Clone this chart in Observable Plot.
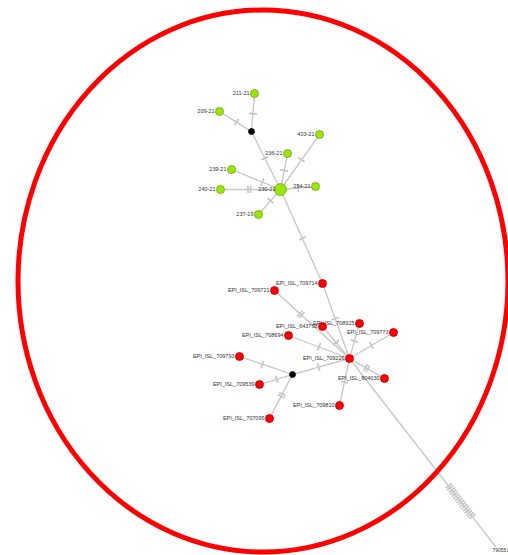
<!DOCTYPE html>
<html><head><meta charset="utf-8">
<script src="https://cdn.jsdelivr.net/npm/d3@7"></script>
<script src="https://cdn.jsdelivr.net/npm/@observablehq/plot@0.6"></script>
<style>html,body{margin:0;padding:0;background:#fff;overflow:hidden}</style>
</head><body><div id="chart"></div>
<script>
// Nodes of the haplotype network (layout coordinates)
const nodeIds = ["211-21","209-21","J1","403-21","236-21","239-21","240-21","230-21","294-21","237-19",
  "EPI_ISL_709714","EPI_ISL_709721","EPI_ISL_643768","EPI_ISL_708925","EPI_ISL_709773","EPI_ISL_708694",
  "EPI_ISL_709226","EPI_ISL_709793","J2","EPI_ISL_709539","EPI_ISL_804030","EPI_ISL_709810","EPI_ISL_707095","790551"];
const nodeX = [254,219,251,319,287,231,220,280,315,258, 322,274,322,359,393,288, 349,239,292,259,384,339,269, 495];
const nodeY = [93,111,131,134,153,169,189,189,186,214, 283,290,326,323,332,335, 358,356,374,384,378,405,418, 546];
const nodeGroup = ["green","green","median","green","green","green","green","green","green","green",
  "red","red","red","red","red","red","red","red","median","red","red","red","red","tip"];
const nodeCount = [1,1,0,1,1,1,1,3,1,1, 1,1,1,1,1,1,1,1,0,1,1,1,1,1];

// Edges: source, target, number of mutations
const edgeSource = ["211-21","209-21","J1","239-21","240-21","236-21","403-21","237-19","294-21","230-21",
  "EPI_ISL_709714","EPI_ISL_709721","EPI_ISL_708925","EPI_ISL_709773","EPI_ISL_708694","EPI_ISL_643768",
  "EPI_ISL_709226","J2","J2","J2","EPI_ISL_709226","EPI_ISL_709226","EPI_ISL_709226"];
const edgeTarget = ["J1","J1","230-21","230-21","230-21","230-21","230-21","230-21","230-21","EPI_ISL_709714",
  "EPI_ISL_709226","EPI_ISL_709226","EPI_ISL_709226","EPI_ISL_709226","EPI_ISL_709226","EPI_ISL_709226",
  "J2","EPI_ISL_709793","EPI_ISL_709539","EPI_ISL_707095","EPI_ISL_804030","EPI_ISL_709810","790551"];
const edgeMutations = [1,1,1,1,2,1,1,1,1,1, 1,2,1,1,1,1, 1,1,1,2,2,1,16];
const edgeTickAt = [0.53,0.53,0.46,0.63,0.48,0.47,0.46,0.55,0.5,0.52, 0.47,0.35,0.5,0.5,0.5,0.5, 0.54,0.57,0.48,0.47,0.49,0.5,0.76];

const frame = {cx: 263, cy: 281, rx: 245, ry: 271};

const nodes = nodeIds.map((id, i) => ({id, x: nodeX[i], y: nodeY[i], group: nodeGroup[i], count: nodeCount[i]}));
const byId = new Map(nodes.map(n => [n.id, n]));

// edge polylines with interior vertices where mutation ticks are drawn
const edgePts = [];
edgeSource.forEach((s, i) => {
  const a = byId.get(s), b = byId.get(edgeTarget[i]);
  const len = Math.hypot(b.x - a.x, b.y - a.y);
  const k = edgeMutations[i];
  edgePts.push({e: i, x: a.x, y: a.y});
  for (let j = 0; j < k; j++) {
    const t = edgeTickAt[i] + (j - (k - 1) / 2) * 2.6 / len;
    edgePts.push({e: i, x: a.x + (b.x - a.x) * t, y: a.y + (b.y - a.y) * t});
  }
  edgePts.push({e: i, x: b.x, y: b.y});
});

const fillOf = {green: "#9be60a", red: "#ff0000", median: "#000000", tip: "none"};
const strokeOf = {green: "#6fa800", red: "#b80000", median: "#000000", tip: "none"};

const ellipseMark = (index, scales) => {
  const sx = scales.x, sy = scales.y;
  const el = document.createElementNS("http://www.w3.org/2000/svg", "ellipse");
  el.setAttribute("cx", sx(frame.cx));
  el.setAttribute("cy", sy(frame.cy));
  el.setAttribute("rx", Math.abs(sx(frame.cx + frame.rx) - sx(frame.cx)));
  el.setAttribute("ry", Math.abs(sy(frame.cy + frame.ry) - sy(frame.cy)));
  el.setAttribute("fill", "none");
  el.setAttribute("stroke", "#ff0000");
  el.setAttribute("stroke-width", 5);
  return el;
};

const chart = Plot.plot({
  width: 508, height: 555,
  margin: 0,
  x: {domain: [0, 508], range: [0, 508], axis: null},
  y: {domain: [0, 555], range: [0, 555], axis: null},
  r: {type: "linear", domain: [0, 3], range: [3, 6]},
  style: {background: "#fff", fontFamily: "Liberation Sans, Arial, sans-serif"},
  marks: [
    Plot.line(edgePts, {x: "x", y: "y", z: "e", stroke: "#c6c6c6", strokeWidth: 1.3, markerMid: "tick"}),
    Plot.dot(nodes.filter(d => d.group !== "tip"), {x: "x", y: "y", r: d => d.group === "median" ? 0 : d.count,
      fill: d => fillOf[d.group], stroke: d => strokeOf[d.group], strokeWidth: 0.8}),
    Plot.text(nodes.filter(d => d.group === "green" || d.group === "red"), {x: "x", y: "y", text: "id",
      textAnchor: "end", dx: -5, fontSize: 5.5, fill: "#333"}),
    Plot.text(nodes.filter(d => d.group === "tip"), {x: "x", y: "y", text: "id",
      textAnchor: "start", dx: -3, dy: 4, fontSize: 5, fill: "#333"}),
    ellipseMark
  ]
});
document.getElementById("chart").appendChild(chart);
</script>
</body></html>
